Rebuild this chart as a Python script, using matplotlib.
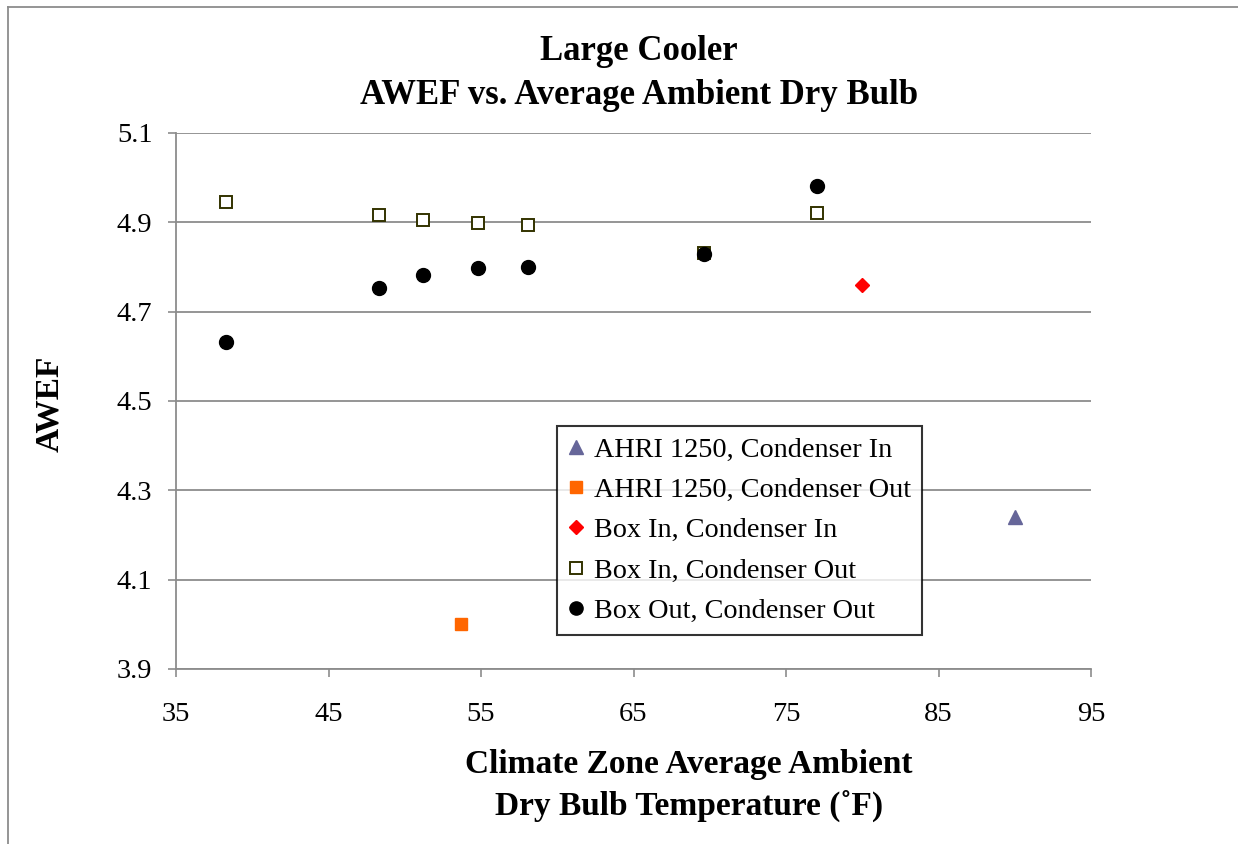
import matplotlib
matplotlib.use("Agg")
import matplotlib.pyplot as plt
from matplotlib.lines import Line2D

plt.rcParams['font.family'] = ['Liberation Serif', 'DejaVu Serif']

# AWEF by climate zone average ambient dry bulb (F)
ahri_in_x = [90.0]
ahri_in_y = [4.24]
ahri_out_x = [53.7]
ahri_out_y = [4.00]
box_in_cond_in_x = [80.0]
box_in_cond_in_y = [4.76]
box_in_cond_out_x = [38.3, 48.3, 51.2, 54.8, 58.1, 69.6, 77.0]
box_in_cond_out_y = [4.945, 4.916, 4.906, 4.898, 4.894, 4.831, 4.920]
box_out_cond_out_x = [38.3, 48.3, 51.2, 54.8, 58.1, 69.6, 77.0]
box_out_cond_out_y = [4.631, 4.753, 4.781, 4.798, 4.800, 4.830, 4.982]

x_ticks = [35, 45, 55, 65, 75, 85, 95]
y_ticks = [3.9, 4.1, 4.3, 4.5, 4.7, 4.9, 5.1]

fig = plt.figure(figsize=(12.38, 8.44), dpi=100)
ax = fig.add_axes([176 / 1238, 1 - 669 / 844, (1091 - 176) / 1238, (669 - 133) / 844])

grey = '#8c8c8c'
ax.plot(ahri_in_x, ahri_in_y, linestyle='none', marker='^', color='#666699', markersize=10, label='AHRI 1250, Condenser In')
ax.plot(ahri_out_x, ahri_out_y, linestyle='none', marker='s', color='#FF6600', markersize=9, label='AHRI 1250, Condenser Out')
ax.plot(box_in_cond_in_x, box_in_cond_in_y, linestyle='none', marker='D', color='#FF0000', markersize=7, label='Box In, Condenser In')
ax.plot(box_in_cond_out_x, box_in_cond_out_y, linestyle='none', marker='s', markerfacecolor='white',
        markeredgecolor='#333300', markeredgewidth=1.4, markersize=9, label='Box In, Condenser Out')
ax.plot(box_out_cond_out_x, box_out_cond_out_y, linestyle='none', marker='o', color='black', markersize=10,
        label='Box Out, Condenser Out')

ax.set_xlim(35, 95)
ax.set_ylim(3.9, 5.1)
ax.set_xticks(x_ticks)
ax.set_yticks(y_ticks)
ax.set_yticklabels([f'{v:.1f}' for v in y_ticks])
ax.tick_params(axis='both', labelsize=20.5, color=grey, length=6, width=1.2, direction='out')
ax.tick_params(axis='x', pad=18)
ax.tick_params(axis='y', pad=11)
ax.yaxis.grid(True, color=grey, linewidth=1.3)
ax.set_axisbelow(True)
for side in ['top', 'right']:
    ax.spines[side].set_visible(False)
for side in ['left', 'bottom']:
    ax.spines[side].set_color(grey)
    ax.spines[side].set_linewidth(1.3)

leg = ax.legend(loc='upper left', bbox_to_anchor=(557 / 1238, 1 - 426 / 844), bbox_transform=fig.transFigure,
                fontsize=20.3, frameon=True, fancybox=False, edgecolor='black', handlelength=0.6,
                handletextpad=0.35, labelspacing=0.52, borderpad=0.38, borderaxespad=0, markerscale=0.95)
leg.get_frame().set_linewidth(1.5)

fig.text(639 / 1238, 1 - 52 / 844, 'Large Cooler', ha='center', va='center', fontsize=25, fontweight='bold')
fig.text(639 / 1238, 1 - 95 / 844, 'AWEF vs. Average Ambient Dry Bulb', ha='center', va='center', fontsize=25,
         fontweight='bold')
fig.text(689 / 1238, 1 - 765 / 844, 'Climate Zone Average Ambient', ha='center', va='center', fontsize=24,
         fontweight='bold')
fig.text(689 / 1238, 1 - 806 / 844, 'Dry Bulb Temperature (˚F)', ha='center', va='center', fontsize=24,
         fontweight='bold')
fig.text(50 / 1238, 1 - 404 / 844, 'AWEF', ha='center', va='center', rotation=90, fontsize=24, fontweight='bold')

# outer chart border (top and left edges)
fig.add_artist(Line2D([8 / 1238, 1], [1 - 7 / 844, 1 - 7 / 844], transform=fig.transFigure, color=grey, linewidth=1.3))
fig.add_artist(Line2D([8 / 1238, 8 / 1238], [0, 1 - 7 / 844], transform=fig.transFigure, color=grey, linewidth=1.3))

fig.savefig('out.png', dpi=100)
